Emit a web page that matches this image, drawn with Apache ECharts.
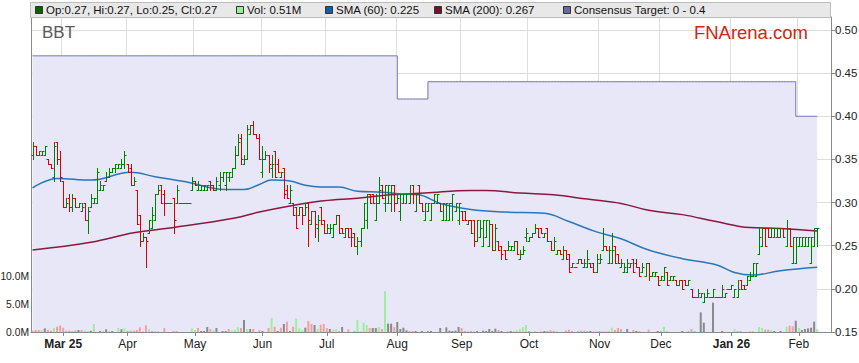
<!DOCTYPE html>
<html><head><meta charset="utf-8">
<script src="https://cdn.jsdelivr.net/npm/echarts@6/dist/echarts.min.js"></script>
<style>html,body{margin:0;padding:0;background:#fff;}#c{width:859px;height:363px;}</style>
</head><body><div id="c"></div>
<script>
// ---- OHLC bars per month: [open, high, low, close] ----
const ohlcFeb25 = [[0.355,0.37,0.35,0.365],[0.365,0.365,0.355,0.355],[0.355,0.36,0.355,0.36],[0.355,0.36,0.355,0.36],[0.355,0.365,0.355,0.365],[0.35,0.35,0.345,0.345],[0.345,0.345,0.34,0.34],[0.33,0.37,0.325,0.365],[0.37,0.37,0.345,0.35],[0.35,0.36,0.325,0.33]];
const ohlcMar25 = [[0.325,0.325,0.295,0.295],[0.295,0.305,0.295,0.30],[0.305,0.31,0.29,0.295],[0.295,0.31,0.29,0.305],[0.305,0.305,0.295,0.295],[0.295,0.30,0.295,0.30],[0.29,0.30,0.29,0.295],[0.30,0.30,0.28,0.28],[0.28,0.295,0.265,0.29],[0.295,0.31,0.295,0.305],[0.30,0.305,0.30,0.305],[0.30,0.34,0.30,0.335],[0.315,0.325,0.315,0.32],[0.315,0.32,0.315,0.32],[0.325,0.335,0.325,0.33],[0.33,0.34,0.33,0.335],[0.335,0.34,0.335,0.34],[0.34,0.345,0.335,0.345],[0.34,0.345,0.34,0.345],[0.34,0.35,0.34,0.345],[0.345,0.36,0.34,0.355]];
const ohlcApr25 = [[0.345,0.345,0.335,0.335],[0.34,0.345,0.32,0.32],[0.32,0.33,0.32,0.325],[0.315,0.315,0.275,0.275],[0.285,0.285,0.25,0.255],[0.255,0.265,0.255,0.26],[0.26,0.26,0.225,0.255],[0.265,0.28,0.265,0.28],[0.27,0.295,0.27,0.285],[0.28,0.31,0.28,0.31],[0.31,0.32,0.31,0.315],[0.32,0.32,0.30,0.30],[0.31,0.315,0.285,0.30],[0.30,0.30,0.30,0.30],[0.30,0.30,0.30,0.30],[0.305,0.305,0.265,0.28],[0.30,0.32,0.30,0.315],[0.30,0.30,0.30,0.30],[0.30,0.30,0.30,0.30],[0.30,0.30,0.30,0.30],[0.30,0.30,0.30,0.30],[0.315,0.33,0.315,0.325]];
const ohlcMay25 = [[0.325,0.325,0.32,0.32],[0.315,0.325,0.315,0.32],[0.315,0.32,0.315,0.32],[0.315,0.32,0.315,0.32],[0.315,0.32,0.315,0.32],[0.325,0.325,0.315,0.32],[0.32,0.32,0.315,0.315],[0.315,0.33,0.315,0.325],[0.32,0.335,0.315,0.33],[0.33,0.335,0.325,0.335],[0.32,0.335,0.315,0.335],[0.33,0.335,0.325,0.335],[0.33,0.34,0.33,0.34],[0.34,0.365,0.34,0.355],[0.355,0.38,0.355,0.37],[0.375,0.38,0.345,0.35],[0.345,0.355,0.345,0.35],[0.35,0.39,0.35,0.385],[0.38,0.39,0.38,0.39],[0.39,0.395,0.38,0.38],[0.38,0.38,0.375,0.375],[0.375,0.38,0.35,0.35]];
const ohlcJun25 = [[0.335,0.365,0.33,0.35],[0.35,0.36,0.35,0.355],[0.355,0.355,0.335,0.345],[0.34,0.355,0.33,0.345],[0.36,0.36,0.33,0.33],[0.345,0.35,0.335,0.335],[0.33,0.335,0.33,0.335],[0.34,0.34,0.305,0.31],[0.315,0.32,0.305,0.305],[0.30,0.32,0.30,0.315],[0.30,0.30,0.285,0.285],[0.295,0.295,0.27,0.27],[0.285,0.295,0.285,0.295],[0.295,0.295,0.275,0.285],[0.285,0.30,0.285,0.295],[0.30,0.30,0.25,0.28],[0.275,0.29,0.275,0.29],[0.29,0.29,0.26,0.275],[0.27,0.285,0.255,0.28],[0.295,0.295,0.275,0.275],[0.28,0.28,0.265,0.265]];
const ohlcJul25 = [[0.265,0.275,0.265,0.27],[0.265,0.275,0.265,0.27],[0.26,0.275,0.26,0.275],[0.275,0.285,0.275,0.285],[0.285,0.285,0.265,0.265],[0.27,0.27,0.265,0.265],[0.26,0.27,0.26,0.27],[0.27,0.27,0.26,0.26],[0.27,0.27,0.25,0.26],[0.265,0.265,0.25,0.25],[0.25,0.26,0.24,0.255],[0.255,0.27,0.25,0.27],[0.27,0.30,0.27,0.30],[0.28,0.31,0.27,0.31],[0.31,0.31,0.30,0.30],[0.31,0.31,0.30,0.30],[0.28,0.31,0.28,0.30],[0.30,0.33,0.30,0.315],[0.32,0.32,0.305,0.305],[0.30,0.32,0.29,0.32],[0.30,0.32,0.30,0.32],[0.30,0.32,0.29,0.32],[0.32,0.32,0.29,0.30]];
const ohlcAug25 = [[0.30,0.31,0.30,0.305],[0.29,0.31,0.28,0.31],[0.30,0.31,0.30,0.31],[0.30,0.31,0.30,0.31],[0.30,0.32,0.30,0.31],[0.32,0.32,0.30,0.31],[0.29,0.31,0.29,0.31],[0.32,0.32,0.30,0.30],[0.30,0.30,0.29,0.29],[0.28,0.30,0.28,0.30],[0.29,0.30,0.29,0.30],[0.28,0.30,0.28,0.30],[0.30,0.31,0.30,0.31],[0.30,0.31,0.30,0.31],[0.30,0.30,0.29,0.29],[0.28,0.30,0.28,0.30],[0.28,0.30,0.28,0.30],[0.28,0.30,0.28,0.30],[0.30,0.31,0.28,0.31],[0.29,0.30,0.29,0.30],[0.28,0.30,0.275,0.30]];
const ohlcSep25 = [[0.29,0.29,0.28,0.28],[0.29,0.29,0.28,0.28],[0.275,0.28,0.275,0.28],[0.28,0.28,0.265,0.265],[0.28,0.28,0.25,0.255],[0.255,0.28,0.255,0.28],[0.26,0.28,0.26,0.27],[0.25,0.28,0.25,0.28],[0.26,0.28,0.26,0.28],[0.25,0.28,0.25,0.275],[0.275,0.275,0.245,0.245],[0.245,0.275,0.245,0.27],[0.255,0.255,0.245,0.245],[0.25,0.25,0.235,0.24],[0.245,0.245,0.235,0.235],[0.245,0.255,0.245,0.25],[0.245,0.25,0.245,0.25],[0.245,0.255,0.245,0.255],[0.255,0.255,0.24,0.24],[0.235,0.245,0.235,0.24],[0.24,0.25,0.24,0.245],[0.26,0.27,0.255,0.265]];
const ohlcOct25 = [[0.255,0.26,0.255,0.26],[0.26,0.265,0.26,0.265],[0.265,0.275,0.265,0.27],[0.27,0.27,0.26,0.26],[0.27,0.27,0.265,0.265],[0.26,0.265,0.26,0.265],[0.27,0.27,0.255,0.255],[0.255,0.255,0.245,0.245],[0.245,0.26,0.245,0.255],[0.24,0.245,0.24,0.245],[0.245,0.245,0.24,0.24],[0.235,0.25,0.235,0.245],[0.245,0.245,0.235,0.235],[0.24,0.24,0.22,0.22],[0.225,0.23,0.225,0.23],[0.225,0.225,0.225,0.225],[0.23,0.235,0.23,0.235],[0.235,0.235,0.23,0.23],[0.225,0.235,0.225,0.23],[0.225,0.245,0.225,0.235],[0.23,0.23,0.225,0.225],[0.23,0.23,0.22,0.22],[0.22,0.24,0.22,0.235]];
const ohlcNov25 = [[0.23,0.24,0.23,0.235],[0.245,0.27,0.245,0.25],[0.25,0.25,0.245,0.245],[0.23,0.25,0.23,0.245],[0.23,0.265,0.23,0.245],[0.25,0.25,0.23,0.23],[0.24,0.24,0.23,0.23],[0.225,0.235,0.225,0.23],[0.22,0.23,0.22,0.225],[0.22,0.235,0.22,0.23],[0.225,0.23,0.225,0.23],[0.235,0.235,0.22,0.22],[0.23,0.235,0.225,0.225],[0.225,0.225,0.215,0.215],[0.22,0.23,0.22,0.225],[0.215,0.23,0.215,0.23],[0.23,0.23,0.21,0.215],[0.215,0.22,0.215,0.22],[0.215,0.22,0.215,0.22],[0.215,0.215,0.205,0.205]];
const ohlcDec25 = [[0.21,0.215,0.21,0.215],[0.21,0.225,0.21,0.225],[0.22,0.22,0.205,0.205],[0.21,0.215,0.21,0.215],[0.21,0.215,0.21,0.215],[0.21,0.21,0.205,0.205],[0.205,0.21,0.205,0.21],[0.21,0.21,0.20,0.20],[0.21,0.21,0.205,0.205],[0.205,0.21,0.205,0.21],[0.20,0.20,0.19,0.19],[0.19,0.19,0.19,0.19],[0.19,0.20,0.19,0.195],[0.19,0.195,0.19,0.195],[0.185,0.195,0.185,0.19],[0.19,0.20,0.19,0.195],[0.19,0.19,0.19,0.19],[0.19,0.20,0.19,0.20],[0.19,0.19,0.19,0.19],[0.19,0.19,0.19,0.19],[0.19,0.205,0.19,0.20],[0.19,0.195,0.19,0.195],[0.20,0.20,0.20,0.20]];
const ohlcJan26 = [[0.20,0.205,0.20,0.205],[0.19,0.20,0.19,0.20],[0.19,0.21,0.19,0.20],[0.21,0.21,0.20,0.20],[0.205,0.205,0.20,0.20],[0.205,0.215,0.205,0.215],[0.21,0.22,0.21,0.215],[0.215,0.23,0.215,0.23],[0.215,0.23,0.215,0.23],[0.24,0.27,0.24,0.26],[0.25,0.27,0.25,0.27],[0.27,0.27,0.25,0.25],[0.27,0.27,0.26,0.26],[0.26,0.27,0.26,0.27],[0.26,0.27,0.26,0.27],[0.26,0.27,0.26,0.26],[0.26,0.27,0.26,0.27],[0.27,0.27,0.26,0.26],[0.25,0.28,0.25,0.27],[0.27,0.27,0.25,0.25],[0.23,0.26,0.23,0.26],[0.23,0.26,0.23,0.26]];
const ohlcFeb26 = [[0.25,0.26,0.25,0.26],[0.25,0.26,0.25,0.26],[0.25,0.26,0.25,0.26],[0.25,0.26,0.25,0.26],[0.23,0.26,0.23,0.26],[0.25,0.27,0.25,0.27],[0.27,0.27,0.25,0.27]];

// ---- Volume (millions) per month, and direction of change (u up, d down, n unchanged) ----
const volFeb25 = [0.24,0.36,0.36,0.36,0.65,0.36,0.24,0.71,0.95,1.19];
const volMar25 = [0.77,0.24,0.24,0.18,0.3,0.36,0.36,0.3,0.18,0.24,1.43,0,0.18,0.18,0.48,0.18,0.18,0,0.71,0.48,0.65];
const volApr25 = [0.24,0.24,0.24,0.36,0.83,0.18,1.19,0.48,0.18,0.18,0.18,0,0.71,0,0,0.18,0.18,0,0,0,0,0.65];
const volMay25 = [0.36,0.71,0.18,0.18,0.89,0.54,0.36,0.71,0,0.18,0.18,0.54,0.24,0.36,0.83,0.71,2.14,0.54,0.54,0.54,0,0.36];
const volJun25 = [0.18,0,0.71,2.5,0.95,0.18,0.77,1.43,1.85,0.18,0.95,2.38,0.65,0.36,0.77,1.96,1.43,1.25,0.54,1.3,1.43];
const volJul25 = [0.71,0.54,0.42,0.54,0.18,0.89,0,0.48,0,0.18,2.14,0.18,1.67,1.25,0.71,0.71,0.71,0.89,0.54,7.3,1.49,1.49,0.89];
const volAug25 = [1.79,0.54,0.77,0.3,0.18,0.18,0.18,0,0.18,0,0.12,0.18,0,0,0.71,0,0.83,0.24,0.18,0.24,0.89];
const volSep25 = [0.71,0.18,0.18,0.18,0.18,0.18,0,0.24,0.18,0.54,0.18,0.6,0.36,0.18,0,0.18,0.18,0.18,0.36,0.54,0.89,1.25];
const volOct25 = [0.18,0,0.18,0,0.18,0.18,0.18,0.3,0.18,0.18,0,0,0.24,0.42,0.18,0,0.18,0.24,0.24,0.18,0.18,0.18,0.18];
const volNov25 = [0.18,0.18,0.18,0.24,0.77,0.36,0.71,0.54,0,0.54,0,0.36,0.18,0.18,0,0,0.42,0,0,0.18];
const volDec25 = [0.18,0.89,0.18,0,0,0,0,0.18,0,0.18,0.54,0.18,0,3.5,1.67,0,0,5.24,0,0,0.18,0,0];
const volJan26 = [0,0.54,0.18,0.18,0,0,0.18,0.18,0,0.89,0.71,0.42,0.42,0.36,0.18,0,0.18,0,0.95,1.13,1.0,2.0];
const volFeb26 = [0.71,0.36,0.54,0.65,0.77,1.85,0.51];
const dirFeb25 = 'dddunddudd';
const dirMar25 = 'dddddnduununnununnunu';
const dirApr25 = 'dddddududuundnnddnnnnu';
const dirMay25 = 'udnnndunnnnduuudnundnd';
const dirJun25 = 'nndudndndnduuunddnudd';
const dirJul25 = 'dnuudnndnduuuudnnudunnd';
const dirAug25 = 'nnnnddnnnnnnnnnnnnnnn';
const dirSep25 = 'ddudunnnnnnndnnunuuuuu';
const dirOct25 = 'dnunundddunndddnddddnuu';
const dirNov25 = 'duuuudddnnndndnndnnn';
const dirDec25 = 'duunnnnnndddnnnnnnnnnnn';
const dirJan26 = 'nuddnnuunuuddunnnnuddn';
const dirFeb26 = 'unnnnnu';

// ---- Moving averages: [trading-day index, value] ----
const sma60 = [[0,0.317],[8,0.328],[19,0.326],[32,0.335],[40,0.330],[50,0.324],[63,0.315],[69,0.315],[74,0.321],[78,0.326],[84,0.325],[89,0.320],[94,0.318],[100,0.318],[106,0.313],[114,0.312],[120,0.310],[126,0.309],[133,0.299],[143,0.292],[154,0.289],[167,0.2875],[175,0.278],[184,0.266],[192,0.258],[201,0.245],[212,0.235],[223,0.228],[229,0.219],[235,0.216],[244,0.221],[256,0.225]];
const sma200 = [[0,0.245],[19,0.254],[33,0.265],[46,0.271],[66,0.282],[74,0.289],[84,0.296],[95,0.302],[106,0.305],[117,0.309],[128,0.311],[143,0.314],[148,0.314],[159,0.311],[170,0.309],[181,0.304],[192,0.299],[201,0.291],[212,0.286],[223,0.278],[234,0.271],[244,0.270],[256,0.267]];

// ---- Consensus target (step) ----
const targetFrom = ['2025-02-17','2025-08-01','2025-08-15','2026-01-30'];
const targetValue = [0.47,0.42,0.44,0.40];

// ---- Axis labels ----
const monthTickLabels = ['Mar 25','Apr','May','Jun','Jul','Aug','Sep','Oct','Nov','Dec','Jan 26','Feb'];
const boldTickLabels = ['Mar 25','Jan 26'];
const priceTicks = [0.15,0.20,0.25,0.30,0.35,0.40,0.45,0.50];
const volTickLabels = ['0.0M','5.0M','10.0M'];

const legendItems = [
  {text:'Op:0.27, Hi:0.27, Lo:0.25, Cl:0.27', color:'#006400'},
  {text:'Vol: 0.51M', color:'#99ee99'},
  {text:'SMA (60): 0.225', color:'#1060a8'},
  {text:'SMA (200): 0.267', color:'#7a1030'},
  {text:'Consensus Target: 0 - 0.4', color:'#6a6a9c'}
];

// ---- build ----
const firstDay = '2025-02-17';
const slotCount = 261;
const dates = [];
{ let d = new Date(firstDay + 'T00:00:00Z');
  while (dates.length < slotCount) { const w = d.getUTCDay(); if (w !== 0 && w !== 6) dates.push(d.toISOString().slice(0,10)); d.setUTCDate(d.getUTCDate()+1); } }
const tickLabelAt = {};
{ let k = 0; for (let i = 1; i < dates.length; i++) if (dates[i].slice(0,7) !== dates[i-1].slice(0,7)) tickLabelAt[i] = monthTickLabels[k++]; }
const isTick = (i) => tickLabelAt[i] !== undefined;

const ohlc = [].concat(ohlcFeb25,ohlcMar25,ohlcApr25,ohlcMay25,ohlcJun25,ohlcJul25,ohlcAug25,ohlcSep25,ohlcOct25,ohlcNov25,ohlcDec25,ohlcJan26,ohlcFeb26);
const vols = [].concat(volFeb25,volMar25,volApr25,volMay25,volJun25,volJul25,volAug25,volSep25,volOct25,volNov25,volDec25,volJan26,volFeb26);
const dirs = (dirFeb25+dirMar25+dirApr25+dirMay25+dirJun25+dirJul25+dirAug25+dirSep25+dirOct25+dirNov25+dirDec25+dirJan26+dirFeb26).split('');
const volColor = {u:'#9cf09c', d:'#f5a0a0', n:'#8a8a8a'};

const ohlcData = ohlc.map((b,i)=>[i,b[0],b[1],b[2],b[3]]);
const volData = vols.map((v,i)=>({value:[i,v], itemStyle:{color: volColor[dirs[i]] || '#8a8a8a'}}));
const targetData = ohlc.map((b,i)=>{ let v = targetValue[0]; for (let k=0;k<targetFrom.length;k++) if (dates[i] >= targetFrom[k]) v = targetValue[k]; return [i, v]; });

function renderOHLC(params, api){
  const i = api.value(0), o = api.value(1), h = api.value(2), l = api.value(3), c = api.value(4);
  const po = api.coord([i,o]), ph = api.coord([i,h]), pl = api.coord([i,l]), pc = api.coord([i,c]);
  const x = Math.round(po[0]) + 0.5;
  const col = c >= o ? '#008000' : '#dd0000';
  const st = {stroke: col, lineWidth: 1, fill: null};
  const yo = Math.round(po[1]) + 0.5, yc = Math.round(pc[1]) + 0.5;
  return {type:'group', children:[
    {type:'line', shape:{x1:x, y1:Math.round(ph[1]), x2:x, y2:Math.round(pl[1])+1}, style:st},
    {type:'line', shape:{x1:x-2, y1:yo, x2:x, y2:yo}, style:st},
    {type:'line', shape:{x1:x, y1:yc, x2:x+2, y2:yc}, style:st}
  ]};
}

const FONT = '"Liberation Sans", Arial, sans-serif';
const gridTop = 17, gridBottom = 31;
const plotH = 363 - gridTop - gridBottom;
const pxPerUnit = 863;   // price scale
const pxPerM = 5.6;      // volume scale

const legendX = [35, 236, 325, 434, 563];
const graphic = [
  {type:'rect', shape:{x:30.5, y:2.5, width:800, height:15}, style:{fill:'#e8e8e8', stroke:'#bdbdbd', lineWidth:1}, z:100},
  {type:'text', left:42, top:24, style:{text:'BBT', font:'17px '+FONT, fill:'#5a5a5a'}, z:100},
  {type:'text', right:51, top:23, style:{text:'FNArena.com', font:'18.5px '+FONT, fill:'#cc2a10'}, z:100}
];
legendItems.forEach((it,k)=>{
  graphic.push({type:'rect', shape:{x:legendX[k]+0.5, y:6.5, width:7, height:7}, style:{fill:it.color, stroke:'#333', lineWidth:1}, z:101});
  graphic.push({type:'text', x:legendX[k]+11, y:10, style:{text:it.text, font:'11.5px '+FONT, fill:'#111', verticalAlign:'middle'}, z:101});
});

const option = {
  animation:false,
  backgroundColor:'#ffffff',
  grid:{left:31, right:28, top:gridTop, bottom:gridBottom, containLabel:false, outerBoundsMode:'none'},
  xAxis:{type:'category', data:dates, boundaryGap:true,
    axisLine:{lineStyle:{color:'#8a8a8a', width:1}},
    axisTick:{show:true, alignWithLabel:true, length:4, interval:(i)=>isTick(i), lineStyle:{color:'#8a8a8a'}},
    axisLabel:{interval:(i)=>isTick(i), margin:6, fontSize:12, color:'#222', fontFamily:FONT, hideOverlap:false,
      formatter:(v,i)=>{ const t = tickLabelAt[i] || ''; return boldTickLabels.includes(t) ? '{b|'+t+'}' : t; },
      rich:{b:{fontWeight:'bold', fontSize:12, color:'#222', fontFamily:FONT}}},
    splitLine:{show:true, interval:(i)=>isTick(i), lineStyle:{color:'#dedede', width:1}}
  },
  yAxis:[
    {type:'value', position:'right', min:priceTicks[0], max:priceTicks[0] + plotH/pxPerUnit, interval:0.05,
      axisLine:{show:true, lineStyle:{color:'#8a8a8a'}},
      axisTick:{show:true, length:4, lineStyle:{color:'#8a8a8a'}},
      axisLabel:{showMaxLabel:false, fontSize:11.5, color:'#222', fontFamily:FONT, margin:4,
        formatter:(v)=> priceTicks.some(t=>Math.abs(t-v)<1e-6) ? v.toFixed(2) : ''},
      splitLine:{show:true, lineStyle:{color:'#dedede', width:1}}},
    {type:'value', position:'left', min:0, max:plotH/pxPerM, interval:5,
      axisLine:{show:true, lineStyle:{color:'#8a8a8a'}},
      axisTick:{show:false},
      axisLabel:{showMaxLabel:false, fontSize:10.3, color:'#222', fontFamily:FONT, margin:2,
        formatter:(v)=>{ const k = Math.round(v/5); return (Math.abs(v-k*5)<1e-6 && k < volTickLabels.length) ? volTickLabels[k] : ''; }},
      splitLine:{show:false}}
  ],
  graphic: graphic,
  series:[
    {type:'line', name:'Consensus Target', data:targetData, yAxisIndex:0, step:'end', symbol:'none',
      lineStyle:{color:'#7474b4', width:1}, areaStyle:{color:'#e7e7f7', opacity:1}, z:1},
    {type:'bar', name:'Vol', data:volData, yAxisIndex:1, barWidth:2, z:2},
    {type:'line', name:'SMA (200)', data:sma200, yAxisIndex:0, smooth:0.4, symbol:'none',
      lineStyle:{color:'#8c1840', width:1.5}, z:3},
    {type:'line', name:'SMA (60)', data:sma60, yAxisIndex:0, smooth:0.4, symbol:'none',
      lineStyle:{color:'#2a76b8', width:1.5}, z:4},
    {type:'custom', name:'OHLC', data:ohlcData, yAxisIndex:0, renderItem:renderOHLC,
      encode:{x:0, y:[1,2,3,4]}, z:5}
  ]
};
const chart = echarts.init(document.getElementById('c'), null, {renderer:'svg', width:859, height:363});
chart.setOption(option);
</script>
</body></html>
